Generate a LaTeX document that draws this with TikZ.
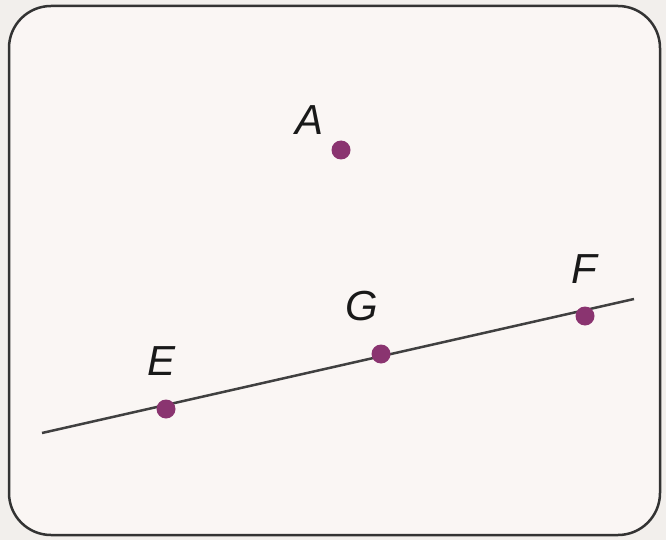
\documentclass[tikz,border=0pt]{standalone}
\usepackage{fontspec}
\setmainfont{Liberation Sans}
\begin{document}
\begin{tikzpicture}[x=1pt,y=-1pt,
  pt/.style={circle,fill=dotc,inner sep=0pt,minimum size=19pt},
  lbl/.style={font=\fontsize{42}{42}\selectfont\itshape,inner sep=0pt,text=black!90}]
\definecolor{dotc}{HTML}{8A3470}
\definecolor{bgc}{HTML}{F2EFEC}
\definecolor{inner}{HTML}{FAF6F4}
\useasboundingbox (0,0) rectangle (666,540);
\fill[bgc] (0,0) rectangle (666,540);
\draw[line width=2.5pt,draw=black!80,fill=inner,rounded corners=42pt] (9,6) rectangle (660,535);
\coordinate (L1) at (42,433);
\coordinate (L2) at (634,299);
\draw[line width=2.5pt,draw=black!75] (L1) -- (L2);
\node[pt] (A) at (341,150) {};
\node[pt] (E) at (166,409) {};
\node[pt] (G) at (381,354) {};
\node[pt] (F) at (585,316) {};
\node[lbl] (lA) at (310,120) {A};
\node[lbl] (lE) at (162,361) {E};
\node[lbl] (lG) at (362,306) {G};
\node[lbl] (lF) at (584,269) {F};
\end{tikzpicture}
\end{document}
